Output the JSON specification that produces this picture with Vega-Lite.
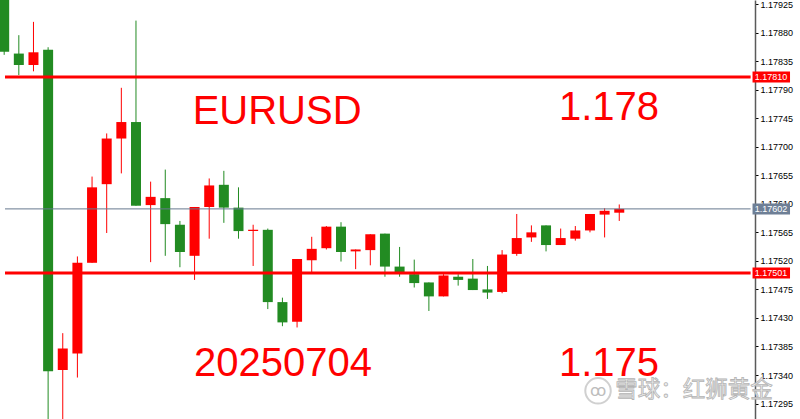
{
  "$schema": "https://vega.github.io/schema/vega-lite/v6.json",
  "width": 800,
  "height": 419,
  "autosize": "none",
  "padding": 0,
  "background": "white",
  "config": {"view": {"stroke": null}, "axis": {"labelOverlap": false, "labelBound": false, "labelFlush": false}},
  "datasets": {
    "candles": [
      {"i": 0, "open": 1.17960, "high": 1.17975, "low": 1.17845, "close": 1.17850},
      {"i": 1, "open": 1.17847, "high": 1.17876, "low": 1.17813, "close": 1.17829},
      {"i": 2, "open": 1.17829, "high": 1.17897, "low": 1.17819, "close": 1.17849},
      {"i": 3, "open": 1.17853, "high": 1.17857, "low": 1.17260, "close": 1.17346},
      {"i": 4, "open": 1.17348, "high": 1.17406, "low": 1.17260, "close": 1.17382},
      {"i": 5, "open": 1.17374, "high": 1.17527, "low": 1.17336, "close": 1.17517},
      {"i": 6, "open": 1.17517, "high": 1.17653, "low": 1.17517, "close": 1.17636},
      {"i": 7, "open": 1.17641, "high": 1.17721, "low": 1.17564, "close": 1.17713},
      {"i": 8, "open": 1.17713, "high": 1.17793, "low": 1.17658, "close": 1.17739},
      {"i": 9, "open": 1.17739, "high": 1.17899, "low": 1.17607, "close": 1.17607},
      {"i": 10, "open": 1.17608, "high": 1.17645, "low": 1.17518, "close": 1.17621},
      {"i": 11, "open": 1.17619, "high": 1.17664, "low": 1.17528, "close": 1.17578},
      {"i": 12, "open": 1.17577, "high": 1.17583, "low": 1.17510, "close": 1.17534},
      {"i": 13, "open": 1.17528, "high": 1.17605, "low": 1.17490, "close": 1.17605},
      {"i": 14, "open": 1.17605, "high": 1.17650, "low": 1.17555, "close": 1.17639},
      {"i": 15, "open": 1.17640, "high": 1.17662, "low": 1.17580, "close": 1.17604},
      {"i": 16, "open": 1.17604, "high": 1.17636, "low": 1.17555, "close": 1.17567},
      {"i": 17, "open": 1.17567, "high": 1.17577, "low": 1.17512, "close": 1.17569},
      {"i": 18, "open": 1.17569, "high": 1.17571, "low": 1.17444, "close": 1.17455},
      {"i": 19, "open": 1.17455, "high": 1.17462, "low": 1.17417, "close": 1.17423},
      {"i": 20, "open": 1.17424, "high": 1.17523, "low": 1.17415, "close": 1.17523},
      {"i": 21, "open": 1.17521, "high": 1.17558, "low": 1.17500, "close": 1.17539},
      {"i": 22, "open": 1.17540, "high": 1.17575, "low": 1.17538, "close": 1.17574},
      {"i": 23, "open": 1.17574, "high": 1.17581, "low": 1.17519, "close": 1.17534},
      {"i": 24, "open": 1.17535, "high": 1.17538, "low": 1.17507, "close": 1.17538},
      {"i": 25, "open": 1.17537, "high": 1.17562, "low": 1.17513, "close": 1.17562},
      {"i": 26, "open": 1.17563, "high": 1.17563, "low": 1.17495, "close": 1.17511},
      {"i": 27, "open": 1.17511, "high": 1.17542, "low": 1.17495, "close": 1.17502},
      {"i": 28, "open": 1.17499, "high": 1.17522, "low": 1.17478, "close": 1.17485},
      {"i": 29, "open": 1.17486, "high": 1.17486, "low": 1.17441, "close": 1.17464},
      {"i": 30, "open": 1.17464, "high": 1.17499, "low": 1.17464, "close": 1.17497},
      {"i": 31, "open": 1.17495, "high": 1.17499, "low": 1.17481, "close": 1.17490},
      {"i": 32, "open": 1.17492, "high": 1.17523, "low": 1.17474, "close": 1.17474},
      {"i": 33, "open": 1.17475, "high": 1.17512, "low": 1.17460, "close": 1.17470},
      {"i": 34, "open": 1.17471, "high": 1.17537, "low": 1.17469, "close": 1.17530},
      {"i": 35, "open": 1.17531, "high": 1.17594, "low": 1.17528, "close": 1.17556},
      {"i": 36, "open": 1.17557, "high": 1.17576, "low": 1.17550, "close": 1.17565},
      {"i": 37, "open": 1.17576, "high": 1.17576, "low": 1.17535, "close": 1.17545},
      {"i": 38, "open": 1.17545, "high": 1.17571, "low": 1.17545, "close": 1.17556},
      {"i": 39, "open": 1.17555, "high": 1.17575, "low": 1.17552, "close": 1.17568},
      {"i": 40, "open": 1.17568, "high": 1.17594, "low": 1.17565, "close": 1.17594},
      {"i": 41, "open": 1.17593, "high": 1.17603, "low": 1.17557, "close": 1.17599},
      {"i": 42, "open": 1.17596, "high": 1.17609, "low": 1.17583, "close": 1.17602}
    ],
    "levels": [
      {"price": 1.17810, "label": "1.17810", "kind": "key"},
      {"price": 1.17501, "label": "1.17501", "kind": "key"},
      {"price": 1.17602, "label": "1.17602", "kind": "last"}
    ],
    "notes": [
      {"text": "EURUSD", "x": 12.87, "y": 1.17736},
      {"text": "1.178", "x": 37.88, "y": 1.17742},
      {"text": "20250704", "x": 12.97, "y": 1.17338},
      {"text": "1.175", "x": 37.88, "y": 1.17338}
    ]
  },
  "encoding": {
    "x": {"type": "quantitative", "scale": {"domain": [0.056, 54.0], "nice": false, "zero": false}, "axis": null},
    "y": {"type": "quantitative", "scale": {"domain": [1.172785, 1.179236], "nice": false, "zero": false},
      "axis": {"orient": "right", "offset": -45, "title": null, "grid": false,
        "values": [1.17295, 1.1734, 1.17385, 1.1743, 1.17475, 1.1752, 1.17565, 1.1761, 1.17655, 1.177, 1.17745, 1.1779, 1.17835, 1.1788, 1.17925],
        "format": ".5f", "labelFont": "Liberation Sans", "labelFontSize": 9, "labelColor": "#000000",
        "labelPadding": 2, "tickSize": 3, "tickColor": "#000000", "domainColor": "#5a5a5a", "domainWidth": 1.5,
        "labelOverlap": false, "labelFlush": false, "labelBound": false}}
  },
  "layer": [
    {
      "data": {"name": "candles"},
      "mark": {"type": "rule", "strokeWidth": 1, "clip": true},
      "encoding": {
        "x": {"field": "i", "type": "quantitative"},
        "y": {"field": "low", "type": "quantitative"},
        "y2": {"field": "high"},
        "color": {"condition": {"test": "datum.close >= datum.open", "value": "#ff0000"}, "value": "#228b22"}
      }
    },
    {
      "data": {"name": "candles"},
      "mark": {"type": "bar", "size": 10, "clip": true},
      "encoding": {
        "x": {"field": "i", "type": "quantitative"},
        "y": {"field": "open", "type": "quantitative"},
        "y2": {"field": "close"},
        "color": {"condition": {"test": "datum.close >= datum.open", "value": "#ff0000"}, "value": "#228b22"}
      }
    },
    {
      "data": {"name": "levels"},
      "transform": [{"filter": "datum.kind === 'last'"}],
      "mark": {"type": "rule", "strokeWidth": 1, "color": "#66788e"},
      "encoding": {
        "x": {"datum": 0.056},
        "x2": {"datum": 50.97},
        "y": {"field": "price", "type": "quantitative"}
      }
    },
    {
      "data": {"name": "levels"},
      "transform": [{"filter": "datum.kind === 'key'"}],
      "mark": {"type": "rule", "strokeWidth": 3, "color": "#ff0000"},
      "encoding": {
        "x": {"datum": 0.056},
        "x2": {"datum": 50.97},
        "y": {"field": "price", "type": "quantitative"}
      }
    },
    {
      "data": {"name": "levels"},
      "mark": {"type": "bar", "size": 11, "orient": "horizontal"},
      "encoding": {
        "x": {"datum": 51.1},
        "x2": {"datum": 53.66},
        "y": {"field": "price", "type": "quantitative"},
        "color": {"condition": {"test": "datum.kind === 'key'", "value": "#ff0000"}, "value": "#6e7f96"}
      }
    },
    {
      "data": {"name": "levels"},
      "mark": {"type": "text", "font": "Liberation Sans", "fontSize": 9, "color": "#ffffff", "align": "center", "baseline": "middle"},
      "encoding": {
        "x": {"datum": 52.36},
        "y": {"field": "price", "type": "quantitative"},
        "text": {"field": "label"}
      }
    },
    {
      "data": {"name": "notes"},
      "mark": {"type": "text", "font": "Liberation Sans", "fontSize": 40, "color": "#ff0000", "align": "left", "baseline": "alphabetic"},
      "encoding": {
        "x": {"field": "x", "type": "quantitative"},
        "y": {"field": "y", "type": "quantitative"},
        "text": {"field": "text"}
      }
    },
    {
      "data": {"values": [{"mark": "logo"}]},
      "mark": {"type": "point", "shape": "circle", "size": 650, "filled": false, "stroke": "#bdbdbd", "strokeWidth": 2},
      "encoding": {
        "x": {"datum": 40.55},
        "y": {"datum": 1.17315}
      }
    },
    {
      "data": {"values": [{"mark": "logo"}]},
      "mark": {"type": "text", "font": "DejaVu Sans", "fontSize": 16, "color": "#bdbdbd", "align": "center", "baseline": "middle"},
      "encoding": {
        "x": {"datum": 40.55},
        "y": {"datum": 1.17315},
        "text": {"value": "ꝏ"}
      }
    },
    {
      "data": {"values": [{"text": "雪球：红狮黄金"}]},
      "mark": {"type": "text", "font": "Noto Sans CJK SC", "fontSize": 22.5, "fill": "#eeeeee", "stroke": "#b4b4b4", "strokeWidth": 0.8, "align": "left", "baseline": "middle"},
      "encoding": {
        "x": {"datum": 41.73},
        "y": {"datum": 1.17316},
        "text": {"field": "text"}
      }
    }
  ]
}
